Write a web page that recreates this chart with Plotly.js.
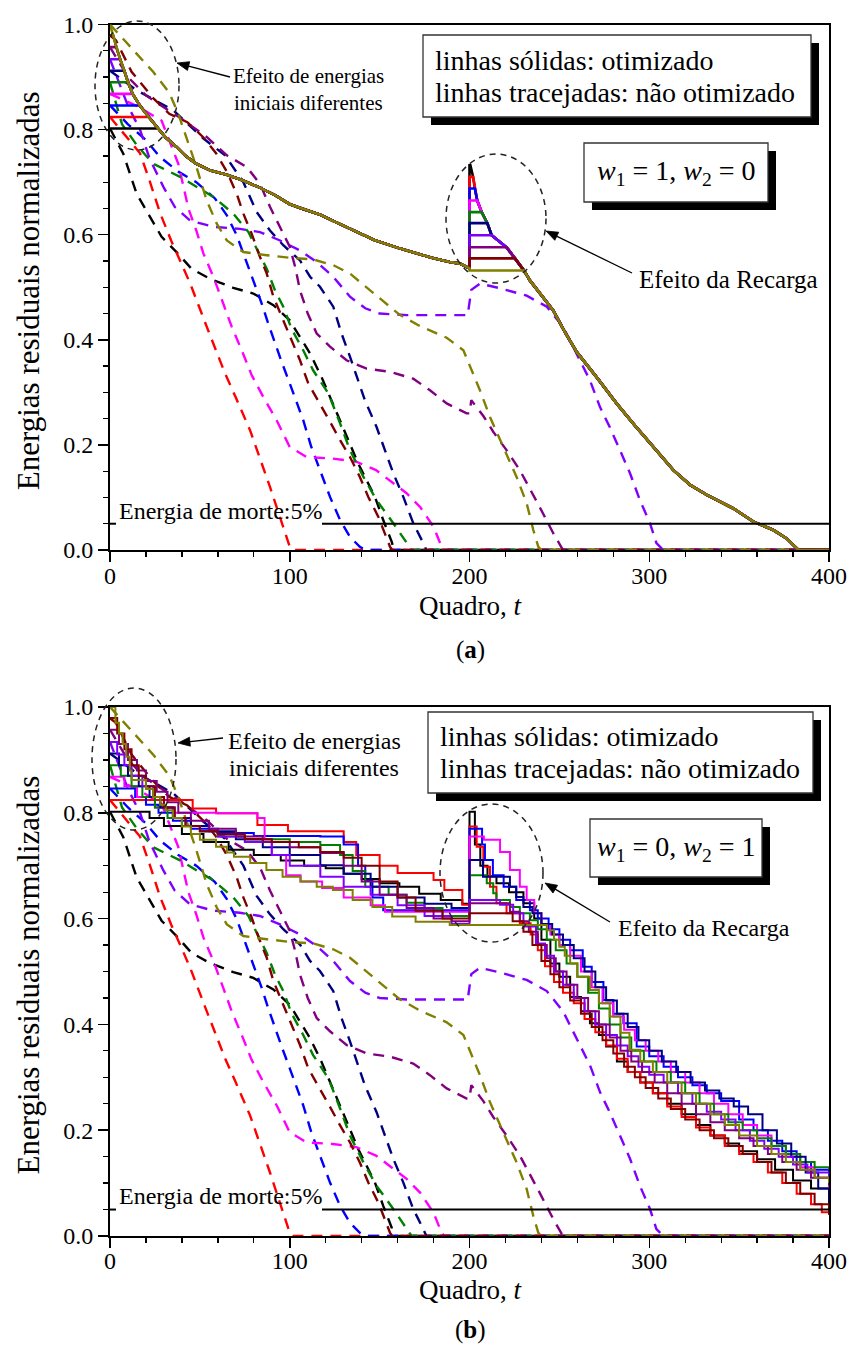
<!DOCTYPE html>
<html><head><meta charset="utf-8">
<script src="https://cdn.plot.ly/plotly-3.0.1.min.js"></script>
<style>html,body{margin:0;padding:0;background:#fff}#chart{width:852px;height:1349px}</style>
</head><body><div id="chart"></div><script>
// ---------- series colours (order: black, red, blue, magenta, green, navy, violet, purple, darkred, olive)
const seriesColors = ['#000000','#ff0000','#0000ff','#ff00ff','#008000','#000080','#8000ff','#800080','#800000','#808000'];

// ---------- non-optimised (dashed) runs, same in both panels
const ndBlackT = [0,7.4,14.8,22.3,28.7,37,45.4,55.6,68.6,79.7,90.9,100,105.7,111.3,117.7,123.3,128,132.6,138,147.4,152,156.7,158,400];
const ndBlackV = [0.802,0.754,0.678,0.634,0.596,0.567,0.535,0.516,0.499,0.488,0.466,0.437,0.406,0.374,0.329,0.285,0.247,0.209,0.165,0.101,0.057,0.016,0,0];
const ndRedT = [0,8,16.7,22,28,34,44.5,53.8,64,70,77.9,89,95,100,102,400];
const ndRedV = [0.824,0.79,0.755,0.703,0.64,0.589,0.508,0.425,0.336,0.29,0.228,0.12,0.06,0.006,0,0];
const ndBlueT = [0,10,20,27.8,38,48,58.4,65,70.5,75,79.7,84.4,88,91.8,95.5,100,107.5,112,116.8,122.4,128,133.5,139,142,400];
const ndBlueV = [0.846,0.81,0.78,0.748,0.72,0.70,0.669,0.637,0.599,0.558,0.513,0.469,0.431,0.393,0.358,0.317,0.247,0.196,0.152,0.101,0.057,0.025,0.006,0,0];
const ndMagentaT = [0,15,28.7,33,38,43.6,48,52,57.5,63,67.7,74,78.8,85.3,92.7,100,109.4,124,137,148,157.6,165,172.5,180,184.5,186,400];
const ndMagentaV = [0.868,0.845,0.817,0.78,0.735,0.65,0.608,0.564,0.52,0.469,0.425,0.374,0.333,0.291,0.247,0.196,0.177,0.174,0.168,0.152,0.127,0.108,0.082,0.044,0.006,0,0];
const ndGreenT = [0,6.7,15,24,39,48,57.5,68.6,77,82.5,87.2,91.8,96.4,101,107.5,113,121.5,128,133.5,141,148.3,157.6,163.2,167.8,400];
const ndGreenV = [0.89,0.81,0.77,0.735,0.71,0.691,0.672,0.64,0.605,0.567,0.535,0.494,0.463,0.421,0.38,0.342,0.298,0.241,0.19,0.139,0.095,0.051,0.022,0,0];
const ndNavyT = [0,14.8,35.2,52,64,74.2,81.6,89,96.4,105.7,111.3,116.8,124.2,128.8,133.5,137.3,141.8,148.3,153,157.6,163.2,168.7,174.3,176,400];
const ndNavyV = [0.912,0.875,0.837,0.783,0.751,0.70,0.643,0.608,0.58,0.551,0.52,0.501,0.463,0.412,0.368,0.329,0.285,0.234,0.19,0.146,0.101,0.051,0.013,0,0];
const ndVioletT = [0,5,10,16.7,22,29.7,36,44.5,57.5,72.3,83.4,94.6,105.7,115,124.2,133.5,142,150,165,199,201,205.8,217,231.8,243,252,261.5,267,272.6,278,283.7,289.3,294.8,300.4,304,307.8,400];
const ndVioletV = [0.934,0.89,0.845,0.80,0.745,0.691,0.653,0.627,0.615,0.611,0.605,0.589,0.57,0.548,0.52,0.482,0.46,0.45,0.447,0.447,0.495,0.507,0.498,0.484,0.463,0.425,0.361,0.323,0.272,0.234,0.19,0.146,0.095,0.051,0.013,0,0];
const ndPurpleT = [0,10,20,29.7,40,53.8,65,76,83.4,89,94.6,100,103,105.7,110,115,122.4,131.6,142.8,155.8,168.7,178,187.3,198.4,200,201,207.7,213.2,220.6,228,239,246.6,252,400];
const ndPurpleV = [0.957,0.9,0.865,0.843,0.82,0.786,0.751,0.729,0.697,0.653,0.615,0.577,0.539,0.494,0.45,0.412,0.387,0.361,0.345,0.339,0.326,0.304,0.279,0.26,0.26,0.285,0.255,0.225,0.19,0.152,0.082,0.032,0,0];
const ndDarkredT = [0,3.3,12,24,33,43,52,59,65,70.5,74.2,78.8,83.4,87.2,90.9,96.4,101,105.7,110.3,116.8,122.4,128,133.5,139,143.7,149.3,153.9,155.8,157,400];
const ndDarkredV = [0.979,0.97,0.91,0.86,0.83,0.814,0.785,0.755,0.72,0.678,0.64,0.602,0.558,0.526,0.482,0.437,0.399,0.361,0.317,0.279,0.244,0.209,0.177,0.139,0.101,0.063,0.025,0.006,0,0];
const ndOliveT = [0,12,24,33,38,43,48,53.8,59.4,65,74.2,87.2,100,113,124.2,133.5,142.8,154,161,172.5,187.3,196.6,205.8,211.4,218.8,226.2,231.8,235.5,238.3,240,400];
const ndOliveV = [1.0,0.955,0.91,0.87,0.83,0.78,0.73,0.665,0.621,0.589,0.567,0.561,0.556,0.553,0.542,0.526,0.5,0.467,0.448,0.426,0.404,0.38,0.304,0.253,0.196,0.139,0.089,0.038,0.006,0,0];

// ---------- panel (a): optimised runs (w1=1, w2=0)
const initEnergy = [0.802,0.824,0.846,0.868,0.89,0.912,0.934,0.957,0.979,1.0];
const joinTimeA  = [26.8,21.5,16.6,12.6,10,8,5.6,3.5,1.8,0];
const curveAT = [0,1.8,3.5,5.6,8,10,12.6,16.6,21.5,26.8,31,37,42,48,56,65,74,83,92,100,108,117,125,133.5,147,161,170.6,180,189,194.7,200];
const curveAV = [1.0,0.979,0.957,0.934,0.912,0.89,0.868,0.846,0.824,0.802,0.785,0.767,0.75,0.735,0.722,0.714,0.703,0.69,0.675,0.658,0.648,0.638,0.625,0.611,0.59,0.574,0.564,0.555,0.548,0.545,0.536];
const rechargeTime = 200;
const rechargeLevelA = [0.732,0.71,0.688,0.665,0.643,0.622,0.599,0.576,0.555,0.532];
const rejoinTimeA    = [200.5,202,203,204.3,206.8,209.9,212.3,220.6,225.3,230.3];
const postAT = [233.6,240,246.6,253,259.6,270.7,281.8,291,302.3,313.4,322.7,332,346.8,357.9,369,376.4,383,400];
const postAV = [0.513,0.485,0.456,0.415,0.377,0.329,0.279,0.241,0.196,0.152,0.124,0.105,0.079,0.054,0.038,0.022,0.0,0.0];

// ---------- panel (b): optimised runs (w1=0, w2=1), step lines
const bBlackT = [0,22,30,40,52,66,80,95,108,120,130,140,150,161,172,184,196,200,203,206,210,215,222,230,236,240,245,250,256,262,267,272,276,282,288,295,302,310,318,326,334,342,350,360,370,380,390,400];
const bBlackV = [0.802,0.79,0.775,0.76,0.745,0.73,0.72,0.71,0.70,0.695,0.685,0.675,0.667,0.66,0.647,0.635,0.628,0.802,0.74,0.70,0.68,0.667,0.65,0.629,0.60,0.56,0.515,0.49,0.452,0.425,0.402,0.38,0.358,0.33,0.31,0.29,0.27,0.25,0.23,0.21,0.19,0.175,0.16,0.145,0.125,0.105,0.09,0.075];
const bRedT = [0,46,59,82,99,130,137,150,160,180,186,196,200,204,207.7,211.4,215,220.6,228,234,238,242,247,252,258,264,270,276,282,288,295,302,310,318,326,334,342,350,358,366,374,382,390,396,400];
const bRedV = [0.824,0.808,0.799,0.777,0.765,0.745,0.72,0.70,0.686,0.673,0.654,0.626,0.774,0.736,0.698,0.66,0.629,0.61,0.591,0.57,0.54,0.51,0.48,0.46,0.44,0.41,0.385,0.36,0.335,0.31,0.29,0.27,0.245,0.225,0.205,0.19,0.17,0.155,0.14,0.12,0.1,0.08,0.06,0.045,0.04];
const bBlueT = [0,14,20,27,35,45,60,80,117,130,138,142,146,152,200,207,208.6,213,219,226,233.6,238,244,250,256,263,268,274.5,280,285.6,293,300,308,316,324,332,340,350,358,366,374,382,390,400];
const bBlueV = [0.846,0.83,0.815,0.80,0.785,0.77,0.762,0.756,0.755,0.74,0.70,0.672,0.64,0.616,0.77,0.74,0.711,0.682,0.66,0.635,0.616,0.60,0.58,0.56,0.54,0.509,0.48,0.446,0.42,0.402,0.358,0.34,0.32,0.30,0.285,0.27,0.255,0.22,0.2,0.18,0.16,0.14,0.125,0.11];
const bMagentaT = [0,8,15,25,35,60,82,86,90,98,106,118,130,145,153,200,208,217,222.5,228,231.8,236,240,245,250,256,262,268,274,280,286,292,298,305,312,320,328,336,344,352,360,368,376,384,392,400];
const bMagentaV = [0.868,0.85,0.83,0.81,0.80,0.799,0.79,0.75,0.72,0.682,0.67,0.658,0.64,0.625,0.613,0.755,0.749,0.726,0.692,0.66,0.635,0.61,0.59,0.57,0.55,0.53,0.5,0.47,0.44,0.415,0.39,0.37,0.35,0.33,0.31,0.29,0.27,0.25,0.23,0.21,0.19,0.17,0.15,0.13,0.11,0.09];
const bGreenT = [0,6,12,18,25,32,40,50,60,75,100,117,128,135,142,155,165,175,185,200,209.6,213.2,215,222.5,228,233.6,238,243,248,254,260,266,272,278,284,290,297,304,312,320,328,336,344,352,360,368,376,384,392,400];
const bGreenV = [0.89,0.87,0.85,0.83,0.81,0.79,0.775,0.765,0.755,0.75,0.745,0.739,0.72,0.69,0.66,0.645,0.63,0.62,0.605,0.682,0.667,0.648,0.635,0.622,0.61,0.597,0.58,0.56,0.54,0.515,0.49,0.46,0.43,0.40,0.375,0.35,0.33,0.31,0.29,0.27,0.25,0.23,0.215,0.2,0.185,0.17,0.155,0.14,0.13,0.125];
const bNavyT = [0,5,10,16,22,28,35,45,55,70,85,100,117,130,145,160,175,190,200,207.5,222.5,226,230,235,240,246,252,258,264,270,276,282,288,294,300,307,315,323,331,339,347,355,363,371,379,387,394,400];
const bNavyV = [0.912,0.89,0.87,0.85,0.83,0.81,0.79,0.775,0.765,0.75,0.735,0.72,0.701,0.685,0.66,0.64,0.628,0.62,0.711,0.679,0.66,0.641,0.622,0.61,0.59,0.57,0.55,0.525,0.5,0.47,0.445,0.42,0.395,0.37,0.35,0.33,0.31,0.29,0.275,0.26,0.245,0.23,0.2,0.175,0.15,0.12,0.09,0.06];
const bVioletT = [0,4,8,12,18,24,30,36,42,50,60,75,90,100,117,130,145,160,175,190,200,217,224.3,230,237,242,247,252,258,264,270,276,282,288,294,300,308,316,324,332,340,348,356,364,372,380,388,400];
const bVioletV = [0.934,0.91,0.89,0.87,0.85,0.83,0.81,0.79,0.775,0.765,0.755,0.745,0.72,0.70,0.679,0.66,0.645,0.625,0.605,0.59,0.635,0.626,0.61,0.585,0.553,0.53,0.5,0.475,0.45,0.425,0.40,0.38,0.36,0.34,0.32,0.305,0.29,0.27,0.25,0.235,0.22,0.20,0.18,0.165,0.15,0.135,0.12,0.11];
const bPurpleT = [0,5,10,15,20,26,32,38,45,55,70,85,100,117,130,140,150,165,180,190,200,222.5,228,233,238,243,248,254,260,266,272,278,284,290,296,303,310,318,326,334,342,350,358,366,374,382,390,400];
const bPurpleV = [0.957,0.93,0.90,0.88,0.86,0.84,0.82,0.80,0.785,0.77,0.755,0.745,0.735,0.724,0.70,0.67,0.645,0.62,0.60,0.595,0.629,0.613,0.595,0.575,0.55,0.525,0.5,0.475,0.45,0.425,0.4,0.375,0.35,0.33,0.31,0.29,0.27,0.25,0.23,0.215,0.2,0.185,0.17,0.155,0.14,0.125,0.11,0.095];
const bDarkredT = [0,4,8,12,16,20,25,30,36,42,50,60,75,90,105,117,130,140,150,160,170,185,200,224,230,235,240,245,250,256,262,268,274,280,286,292,298,305,312,320,328,336,344,352,360,368,376,384,392,400];
const bDarkredV = [0.979,0.95,0.92,0.89,0.87,0.85,0.83,0.81,0.79,0.775,0.765,0.76,0.75,0.745,0.735,0.726,0.715,0.70,0.67,0.64,0.615,0.60,0.61,0.595,0.575,0.55,0.52,0.495,0.47,0.445,0.42,0.395,0.37,0.345,0.32,0.30,0.28,0.26,0.24,0.22,0.20,0.185,0.17,0.155,0.14,0.12,0.10,0.08,0.06,0.04];
const bOliveT = [0,3,5,7,9,11,12,20,24,28,31,35,40,45,50,59,65,69,78,87,96,106,115,124,135,146,157,170,189,243,247,250,253,256,260,267,272,278,284,289,295,302,310,318,326,334,342,350,360,368,376,384,392,400];
const bOliveV = [1.0,0.97,0.95,0.93,0.906,0.88,0.862,0.845,0.83,0.815,0.805,0.79,0.774,0.76,0.749,0.736,0.725,0.717,0.705,0.692,0.679,0.67,0.66,0.654,0.635,0.622,0.604,0.594,0.588,0.578,0.56,0.547,0.53,0.515,0.49,0.465,0.44,0.415,0.384,0.352,0.33,0.31,0.29,0.27,0.25,0.23,0.21,0.19,0.17,0.155,0.14,0.125,0.11,0.10];

const deathLevel = 0.05;
const xTicks = [0,100,200,300,400];

// ---------- build traces
const dashedT = [ndBlackT,ndRedT,ndBlueT,ndMagentaT,ndGreenT,ndNavyT,ndVioletT,ndPurpleT,ndDarkredT,ndOliveT];
const dashedV = [ndBlackV,ndRedV,ndBlueV,ndMagentaV,ndGreenV,ndNavyV,ndVioletV,ndPurpleV,ndDarkredV,ndOliveV];
const solidBT = [bBlackT,bRedT,bBlueT,bMagentaT,bGreenT,bNavyT,bVioletT,bPurpleT,bDarkredT,bOliveT];
const solidBV = [bBlackV,bRedV,bBlueV,bMagentaV,bGreenV,bNavyV,bVioletV,bPurpleV,bDarkredV,bOliveV];

function panelASeries(i){
  const xs=[0], ys=[initEnergy[i]];
  for(let k=0;k<curveAT.length;k++){ if(curveAT[k]>=joinTimeA[i]){xs.push(curveAT[k]); ys.push(curveAV[k]);} }
  xs.push(rechargeTime); ys.push(rechargeLevelA[i]);
  for(let k=i;k<rechargeLevelA.length;k++){ xs.push(rejoinTimeA[k]); ys.push(rechargeLevelA[k]); }
  for(let k=0;k<postAT.length;k++){ xs.push(postAT[k]); ys.push(postAV[k]); }
  return [xs,ys];
}

const traces=[];
['', '2'].forEach(function(sfx){
  for(let i=0;i<10;i++){
    traces.push({type:'scatter',mode:'lines',x:dashedT[i],y:dashedV[i],xaxis:'x'+sfx,yaxis:'y'+sfx,
      line:{color:seriesColors[i],width:2.4,dash:'11px,8px'},hoverinfo:'skip',showlegend:false});
  }
});
for(let i=0;i<10;i++){
  const s=panelASeries(i);
  traces.push({type:'scatter',mode:'lines',x:s[0],y:s[1],xaxis:'x',yaxis:'y',
    line:{color:seriesColors[i],width:2.6},hoverinfo:'skip',showlegend:false});
}
for(let i=0;i<10;i++){
  traces.push({type:'scatter',mode:'lines',x:solidBT[i],y:solidBV[i],xaxis:'x2',yaxis:'y2',
    line:{color:seriesColors[i],width:2,shape:'hv'},hoverinfo:'skip',showlegend:false});
}

// ---------- layout helpers (pixel -> paper)
const W=852,H=1349,L=110,R=829;
const X = px => (px-L)/(R-L);
const Y = py => 1-py/H;
const FONT='"Liberation Serif", "Times New Roman", Times, serif';

function axis(extra){
  return Object.assign({
    showline:true,linewidth:2,linecolor:'#000',mirror:true,
    ticks:'outside',ticklen:10,tickwidth:1.5,tickcolor:'#000',
    showgrid:false,zeroline:false,layer:'below traces',
    tickfont:{family:FONT,size:24,color:'#000'}
  },extra);
}
const minorX={dtick:20,ticks:'outside',ticklen:5,tickwidth:1.3,tickcolor:'#000',showgrid:false};
const minorY={dtick:0.05,ticks:'outside',ticklen:5,tickwidth:1.3,tickcolor:'#000',showgrid:false};

const panels=[
  {ya:'y', top:24.5, bot:550, box1:[423,35,811,117], box2:[584,143,768,202], w:'<i>w</i><sub>1</sub> = 1, <i>w</i><sub>2</sub> = 0',
   ell1:[95,21,179,150], ell2:[446,154,546,283], arr1:[177,63,230,77], arr2:[546,231,632,273],
   eff1:[308,76], effSize:21, eff2:[637,280], eff2Size:25, dTextY:511, xTitleY:606, lab:'(<b>a</b>)', labY:650},
  {ya:'y2', top:707, bot:1236, box1:[428,712,813,793], box2:[590,819,762,877], w:'<i>w</i><sub>1</sub> = 0, <i>w</i><sub>2</sub> = 1',
   ell1:[92,688,176,830], ell2:[440,804,543,942], arr1:[178,743,223,738], arr2:[545,883,610,922],
   eff1:[314,741], effSize:24, eff2:[616,928], eff2Size:24, dTextY:1196, xTitleY:1290, lab:'(<b>b</b>)', labY:1330}
];

const shapes=[], annotations=[];
function arrowShapes(a){
  // a = [headX, headY, tailX, tailY] in pixels
  const dx=a[0]-a[2], dy=a[1]-a[3], len=Math.hypot(dx,dy), ux=dx/len, uy=dy/len;
  const hl=12, hw=4.5;
  const bx=a[0]-ux*hl, by=a[1]-uy*hl;
  shapes.push({type:'line',xref:'paper',yref:'paper',x0:X(a[2]),y0:Y(a[3]),x1:X(bx+ux*2),y1:Y(by+uy*2),
    line:{color:'#000',width:1.3},layer:'above'});
  const p1=[a[0],a[1]], p2=[bx-uy*hw, by+ux*hw], p3=[bx+uy*hw, by-ux*hw];
  const path='M '+X(p1[0])+' '+Y(p1[1])+' L '+X(p2[0])+' '+Y(p2[1])+' L '+X(p3[0])+' '+Y(p3[1])+' Z';
  shapes.push({type:'path',xref:'paper',yref:'paper',path:path,fillcolor:'#000',line:{color:'#000',width:0.8},layer:'above'});
}
panels.forEach(function(p){
  [p.ell1,p.ell2].forEach(function(e){
    shapes.push({type:'circle',xref:'paper',yref:'paper',x0:X(e[0]),x1:X(e[2]),y0:Y(e[3]),y1:Y(e[1]),
      line:{color:'#222',width:1.5,dash:'6px,5px'},layer:'above'});
  });
  [p.box1,p.box2].forEach(function(b){
    shapes.push({type:'rect',xref:'paper',yref:'paper',x0:X(b[0]+8),x1:X(b[2]+8),y0:Y(b[3]+8),y1:Y(b[1]+8),
      fillcolor:'#000',line:{width:0},layer:'above'});
    shapes.push({type:'rect',xref:'paper',yref:'paper',x0:X(b[0]),x1:X(b[2]),y0:Y(b[3]),y1:Y(b[1]),
      fillcolor:'#fff',line:{color:'#333',width:1.3},layer:'above'});
  });
  shapes.push({type:'line',xref:'paper',yref:p.ya,x0:X(322),x1:1,y0:deathLevel,y1:deathLevel,line:{color:'#000',width:2},layer:'above'});
  shapes.push({type:'line',xref:'paper',yref:p.ya,x0:0,x1:X(116),y0:deathLevel,y1:deathLevel,line:{color:'#000',width:2},layer:'above'});
  arrowShapes(p.arr1); arrowShapes(p.arr2);

  const mid=(p.box1[1]+p.box1[3])/2;
  annotations.push({xref:'paper',yref:'paper',x:X(p.box1[0]+10),y:Y(mid-16),xanchor:'left',yanchor:'middle',showarrow:false,
    text:'linhas sólidas: otimizado',font:{family:FONT,size:28,color:'#000'}});
  annotations.push({xref:'paper',yref:'paper',x:X(p.box1[0]+10),y:Y(mid+16),xanchor:'left',yanchor:'middle',showarrow:false,
    text:'linhas tracejadas: não otimizado',font:{family:FONT,size:28,color:'#000'}});
  annotations.push({xref:'paper',yref:'paper',x:X((p.box2[0]+p.box2[2])/2),y:Y((p.box2[1]+p.box2[3])/2),xanchor:'center',yanchor:'middle',showarrow:false,
    text:p.w,font:{family:FONT,size:28,color:'#000'}});
  annotations.push({xref:'paper',yref:'paper',x:X(p.eff1[0]),y:Y(p.eff1[1]),xanchor:'center',yanchor:'middle',showarrow:false,
    text:'Efeito de energias',font:{family:FONT,size:p.effSize,color:'#000'}});
  annotations.push({xref:'paper',yref:'paper',x:X(p.eff1[0]),y:Y(p.eff1[1]+27),xanchor:'center',yanchor:'middle',showarrow:false,
    text:'iniciais diferentes',font:{family:FONT,size:p.effSize,color:'#000'}});
  annotations.push({xref:'paper',yref:'paper',x:X(p.eff2[0]),y:Y(p.eff2[1]),xanchor:'left',yanchor:'middle',showarrow:false,
    text:'Efeito da Recarga',font:{family:FONT,size:p.eff2Size,color:'#000'}});
  annotations.push({xref:'paper',yref:'paper',x:X(117),y:Y(p.dTextY),xanchor:'left',yanchor:'middle',showarrow:false,
    text:'Energia de morte:5%',font:{family:FONT,size:24,color:'#000'}});
  annotations.push({xref:'paper',yref:'paper',x:X(470),y:Y(p.xTitleY),xanchor:'center',yanchor:'middle',showarrow:false,
    text:'Quadro, <i>t</i>',font:{family:FONT,size:27,color:'#000'}});
  annotations.push({xref:'paper',yref:'paper',x:X(28),y:Y((p.top+p.bot)/2+4),xanchor:'center',yanchor:'middle',showarrow:false,textangle:-90,
    text:'Energias residuais normalizadas',font:{family:FONT,size:31,color:'#000'}});
  annotations.push({xref:'paper',yref:'paper',x:X(470),y:Y(p.labY),xanchor:'center',yanchor:'middle',showarrow:false,
    text:p.lab,font:{family:FONT,size:25,color:'#000'}});
});

const layout={
  width:W,height:H,margin:{l:L,r:W-R,t:0,b:0},paper_bgcolor:'#fff',plot_bgcolor:'#fff',showlegend:false,
  xaxis: axis({domain:[0,1],range:[0,400],tickvals:xTicks,anchor:'y',minor:minorX,ticklabelstandoff:-7}),
  yaxis: axis({domain:[Y(panels[0].bot),Y(panels[0].top)],range:[0,1],dtick:0.2,tick0:0,tickformat:'.1f',anchor:'x',minor:minorY}),
  xaxis2:axis({domain:[0,1],range:[0,400],tickvals:xTicks,anchor:'y2',minor:minorX,ticklabelstandoff:-8}),
  yaxis2:axis({domain:[Y(panels[1].bot),Y(panels[1].top)],range:[0,1],dtick:0.2,tick0:0,tickformat:'.1f',anchor:'x2',minor:minorY}),
  shapes:shapes,annotations:annotations
};
Plotly.newPlot('chart',traces,layout,{staticPlot:true,displayModeBar:false});
</script></body></html>
